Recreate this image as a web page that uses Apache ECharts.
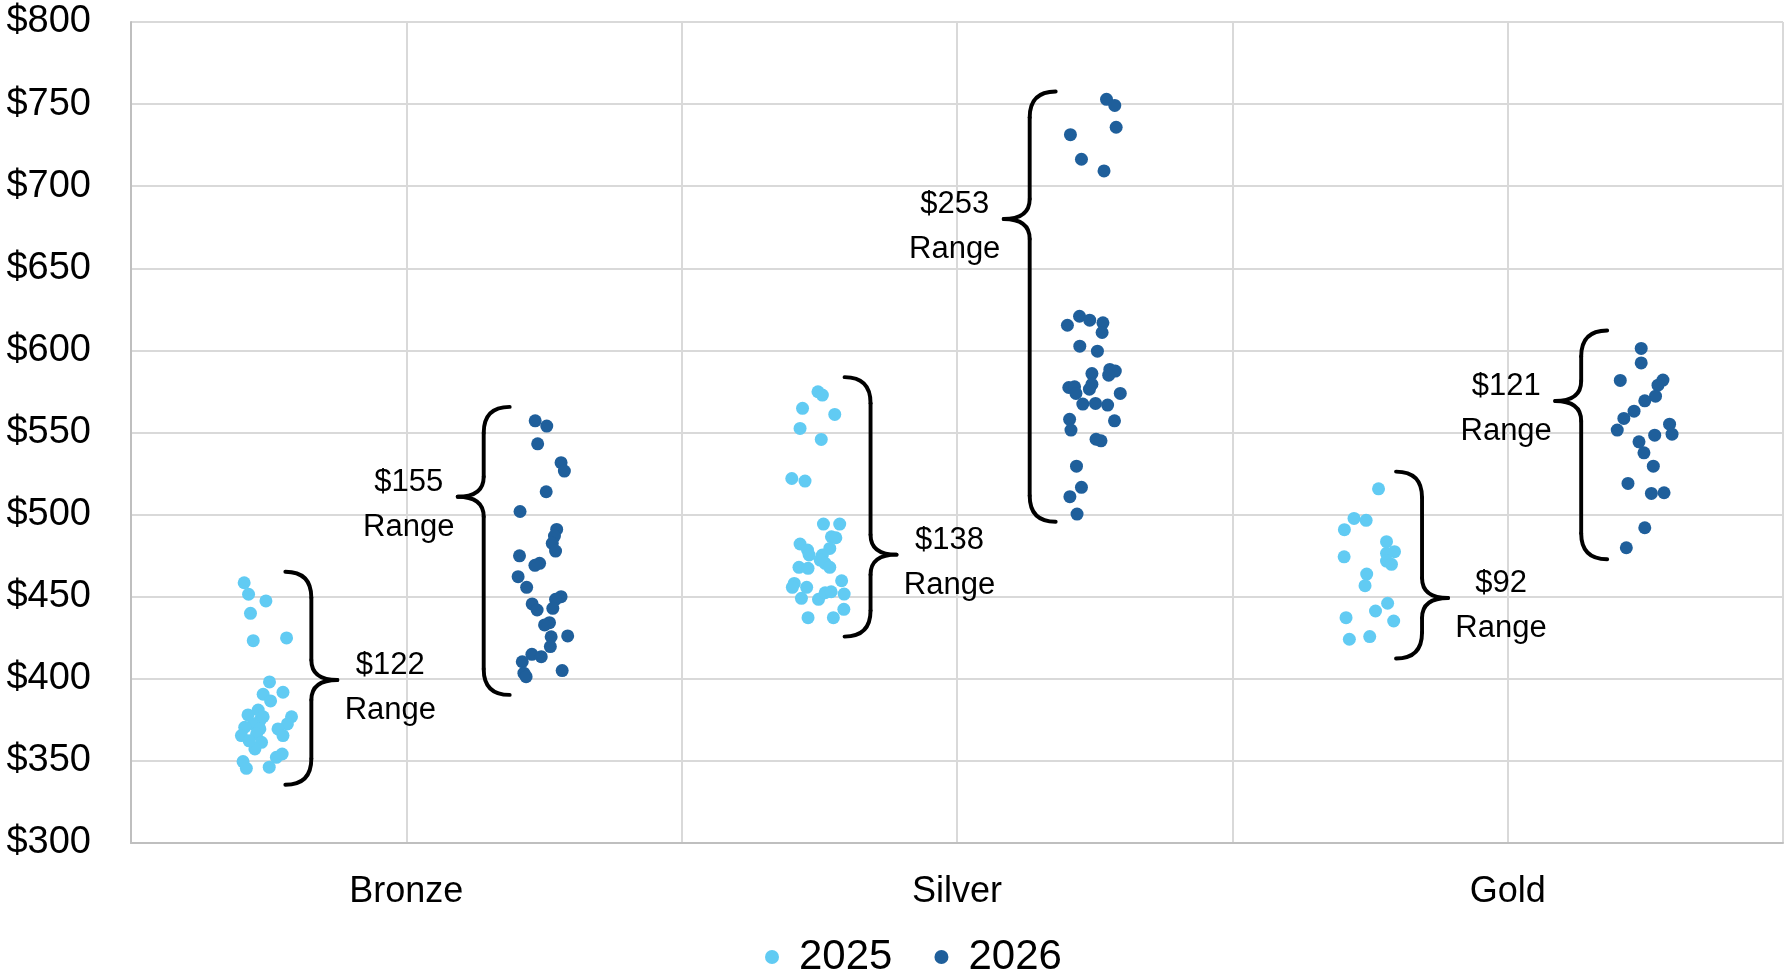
<!DOCTYPE html>
<html>
<head>
<meta charset="utf-8">
<title>Price spread by tier</title>
<script src="https://cdn.jsdelivr.net/npm/echarts@6/dist/echarts.min.js"></script>
<style>
  html, body { margin: 0; padding: 0; background: #fff; }
  #chart { width: 1786px; height: 977px; }
</style>
</head>
<body>
<div id="chart"></div>
<script>
// Tiers along the x scale and where each tier's label sits
const categories = ['Bronze', 'Silver', 'Gold'];
const categoryX = [1, 3, 5];

// Price observations per year: [jittered x position, price]
const prices2025 = [
  [0.411, 458.5], [0.427, 451.5], [0.490, 447.4], [0.434, 439.9], [0.444, 423.2],
  [0.565, 424.9], [0.503, 398.1], [0.552, 391.8], [0.480, 390.6], [0.507, 386.5],
  [0.425, 378.0], [0.462, 381.0], [0.583, 376.9], [0.568, 372.5], [0.468, 374.5],
  [0.444, 372.5], [0.413, 370.5], [0.468, 369.5], [0.401, 365.4], [0.456, 366.4],
  [0.534, 369.5], [0.552, 365.4], [0.474, 361.3], [0.450, 357.3], [0.528, 352.2],
  [0.549, 354.2], [0.407, 349.6], [0.419, 345.5], [0.502, 346.2], [0.429, 362.2],
  [0.480, 376.9],
  [2.495, 574.8], [2.511, 572.8], [2.439, 564.7], [2.556, 561.0], [2.430, 552.5],
  [2.507, 545.8], [2.400, 522.0], [2.448, 520.4], [2.515, 494.2], [2.574, 494.2],
  [2.544, 486.5], [2.560, 485.9], [2.430, 482.1], [2.457, 478.4], [2.538, 479.4],
  [2.463, 475.4], [2.511, 475.4], [2.503, 472.3], [2.521, 470.3], [2.426, 467.9],
  [2.459, 467.3], [2.538, 467.9], [2.581, 459.7], [2.409, 458.1], [2.454, 455.7],
  [2.402, 455.7], [2.435, 449.0], [2.497, 448.4], [2.521, 452.4], [2.543, 453.0],
  [2.590, 451.6], [2.589, 442.3], [2.459, 437.2], [2.551, 437.2],
  [4.531, 515.7], [4.442, 497.7], [4.486, 496.5], [4.407, 490.8], [4.560, 483.5],
  [4.589, 477.4], [4.560, 476.4], [4.406, 474.3], [4.560, 471.7], [4.578, 469.7],
  [4.488, 463.8], [4.482, 456.7], [4.564, 446.0], [4.520, 441.3], [4.413, 437.2],
  [4.586, 435.2], [4.425, 424.1], [4.499, 425.7]
];

const prices2026 = [
  [1.468, 557.1], [1.510, 553.9], [1.477, 543.1], [1.562, 531.6], [1.574, 526.5],
  [1.508, 513.9], [1.413, 501.9], [1.546, 491.0], [1.538, 486.9], [1.530, 482.5],
  [1.542, 477.8], [1.411, 474.9], [1.484, 470.3], [1.467, 469.1], [1.406, 462.2],
  [1.437, 455.7], [1.562, 450.0], [1.542, 448.4], [1.457, 445.6], [1.475, 441.9],
  [1.532, 442.9], [1.520, 434.2], [1.502, 432.8], [1.526, 425.6], [1.586, 426.1],
  [1.523, 419.6], [1.456, 414.9], [1.490, 413.5], [1.421, 410.4], [1.427, 403.4],
  [1.435, 401.3], [1.566, 405.0],
  [3.543, 752.9], [3.573, 749.2], [3.578, 735.9], [3.412, 731.4], [3.452, 716.4],
  [3.534, 709.3], [3.401, 615.3], [3.445, 620.8], [3.482, 618.4], [3.530, 616.8],
  [3.527, 610.9], [3.446, 602.6], [3.510, 599.5], [3.490, 585.9], [3.555, 588.4],
  [3.575, 587.4], [3.551, 584.9], [3.406, 577.4], [3.427, 577.8], [3.432, 573.8],
  [3.490, 579.4], [3.481, 576.4], [3.593, 573.8], [3.457, 567.3], [3.503, 567.7],
  [3.547, 566.7], [3.409, 558.0], [3.414, 551.5], [3.572, 557.1], [3.505, 545.9],
  [3.523, 544.9], [3.434, 529.5], [3.452, 516.6], [3.410, 510.9], [3.436, 500.3],
  [5.485, 601.2], [5.485, 592.4], [5.409, 581.7], [5.564, 581.9], [5.546, 578.8],
  [5.537, 572.1], [5.498, 569.3], [5.459, 563.0], [5.422, 558.6], [5.398, 551.5],
  [5.588, 555.1], [5.597, 549.0], [5.534, 548.4], [5.477, 544.3], [5.495, 537.6],
  [5.529, 529.5], [5.437, 519.0], [5.522, 512.9], [5.568, 513.3], [5.498, 492.0],
  [5.431, 479.8]
];

// Range braces: [spine x, top price, tip price, bottom price, side (+1 points right, -1 left)]
const rangeBraces = [
  [0.655, 465.2, 399.3, 335.5, 1],
  [1.281, 565.6, 510.9, 390.2, -1],
  [2.686, 583.7, 475.6, 425.7, 1],
  [3.264, 757.7, 680.0, 495.6, -1],
  [4.689, 526.2, 449.2, 412.4, 1],
  [5.267, 612.1, 569.2, 472.8, -1]
];
const rangeLabels = ['$122', '$155', '$138', '$253', '$92', '$121'];

const seriesNames = ['2025', '2026'];
const COLOR_2025 = '#61CBF3';
const COLOR_2026 = '#1F5F9B';
const FONT = 'Liberation Sans, Arial, sans-serif';

// Draws one curly brace from scale coordinates, with its range caption
function renderBrace(params, api) {
  const x = api.value(0);
  const side = api.value(4);
  const top = api.coord([x, api.value(1)]);
  const tip = api.coord([x, api.value(2)]);
  const bot = api.coord([x, api.value(3)]);
  const sx = top[0];
  const W = 26;   // horizontal reach of the end curls and the tip
  const R = 26;   // vertical length of the end curls
  const T = 20;   // vertical length of the tip curves
  const stroke = { stroke: '#000', lineWidth: 3.9, fill: null, lineCap: 'round' };
  const yt = top[1], yp = tip[1], yb = bot[1];
  const endX = sx - side * W;
  const tipX = sx + side * W;
  return {
    type: 'group',
    children: [
      { type: 'bezierCurve', shape: { x1: endX, y1: yt, cpx1: sx, cpy1: yt, x2: sx, y2: yt + R }, style: stroke },
      { type: 'line', shape: { x1: sx, y1: yt + R, x2: sx, y2: yp - T }, style: stroke },
      { type: 'bezierCurve', shape: { x1: sx, y1: yp - T, cpx1: sx, cpy1: yp, x2: tipX, y2: yp }, style: stroke },
      { type: 'bezierCurve', shape: { x1: tipX, y1: yp, cpx1: sx, cpy1: yp, x2: sx, y2: yp + T }, style: stroke },
      { type: 'line', shape: { x1: sx, y1: yp + T, x2: sx, y2: yb - R }, style: stroke },
      { type: 'bezierCurve', shape: { x1: sx, y1: yb - R, cpx1: sx, cpy1: yb, x2: endX, y2: yb }, style: stroke },
      {
        type: 'text',
        style: {
          text: rangeLabels[params.dataIndex] + '\nRange',
          x: tipX + side * (side > 0 ? 53 : 49),
          y: yp + 8,
          align: 'center',
          verticalAlign: 'middle',
          fontFamily: FONT,
          fontSize: 31,
          lineHeight: 45,
          fill: '#000'
        }
      }
    ]
  };
}

const chart = echarts.init(document.getElementById('chart'), null, { renderer: 'canvas' });

chart.setOption({
  animation: false,
  backgroundColor: '#fff',
  grid: { left: 131, right: 1, top: 22, bottom: 134, containLabel: false },
  xAxis: {
    type: 'value',
    min: 0,
    max: 6,
    interval: 1,
    axisLine: { show: true, lineStyle: { color: '#BFBFBF', width: 2 } },
    axisTick: { show: false },
    splitLine: { show: true, lineStyle: { color: '#D9D9D9', width: 2 } },
    axisLabel: {
      margin: 31,
      fontFamily: FONT,
      fontSize: 36,
      lineHeight: 36,
      color: '#000',
      formatter: function (v) {
        const i = categoryX.indexOf(v);
        return i >= 0 ? categories[i] : '';
      }
    }
  },
  yAxis: {
    type: 'value',
    min: 300,
    max: 800,
    interval: 50,
    axisLine: { show: true, lineStyle: { color: '#BFBFBF', width: 2 } },
    axisTick: { show: false },
    splitLine: { show: true, lineStyle: { color: '#D9D9D9', width: 2 } },
    axisLabel: {
      margin: 40,
      fontFamily: FONT,
      fontSize: 38,
      color: '#000',
      formatter: function (v) { return '$' + v; }
    }
  },
  legend: {
    data: seriesNames,
    left: 765,
    top: 936,
    padding: 0,
    icon: 'circle',
    itemWidth: 14,
    itemHeight: 14,
    itemGap: 42,
    textStyle: { fontFamily: FONT, fontSize: 42, lineHeight: 42, color: '#000', padding: [0, 0, 0, 15] }
  },
  series: [
    {
      name: seriesNames[0],
      type: 'scatter',
      data: prices2025,
      symbol: 'circle',
      symbolSize: 13,
      itemStyle: { color: COLOR_2025, opacity: 1 },
      z: 3
    },
    {
      name: seriesNames[1],
      type: 'scatter',
      data: prices2026,
      symbol: 'circle',
      symbolSize: 13,
      itemStyle: { color: COLOR_2026, opacity: 1 },
      z: 3
    },
    {
      type: 'custom',
      data: rangeBraces,
      encode: { x: 0, y: 2 },
      renderItem: renderBrace,
      clip: false,
      silent: true,
      z: 4
    }
  ]
});
</script>
</body>
</html>
